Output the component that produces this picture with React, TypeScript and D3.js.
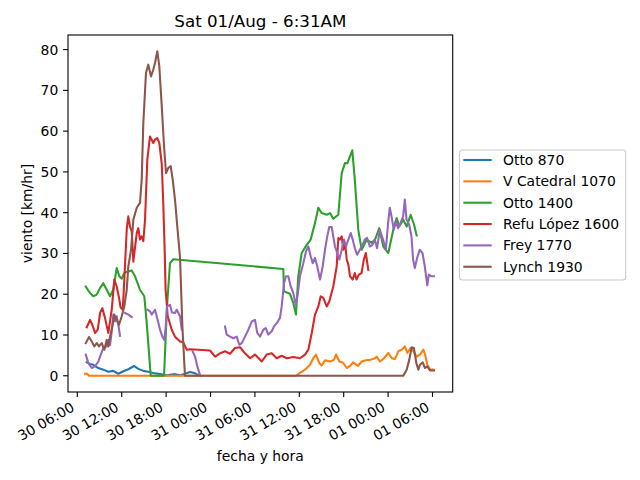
import React, { useEffect } from 'react';
import * as d3 from 'd3';

// hours since 30 Jul 2020 00:00, wind speed in km/hr (null = no data)
type Pt = [number, number | null];

const otto870: Pt[] = [
  [7.27, 3.3], [7.72, 2.9], [8.16, 2.7], [8.84, 1.9], [9.51, 1.5], [10.19, 1.0], [10.86, 1.2],
  [11.54, 0.5], [12.22, 1.1], [12.89, 1.6], [13.66, 2.4], [14.24, 1.7], [14.92, 1.2], [15.59, 1.0],
  [16.27, 0.7], [17.18, 0.4], [18.08, 0.1], [19.2, 0.4], [19.88, 0.1], [21.23, 0.9], [21.91, 0.6],
  [22.58, 0],
];

const vCatedral1070: Pt[] = [
  [7.04, 0.5], [7.31, 0.5], [7.58, 0], [35.55, 0], [36.09, 0.7], [36.77, 1.5], [37.45, 2.7],
  [37.89, 4.3], [38.26, 5.2], [38.7, 3.1], [39.03, 2.5], [39.47, 3.8], [40.15, 3.5], [40.69, 3.9],
  [40.96, 5.2], [41.41, 3.5], [41.91, 3.2], [42.41, 1.9], [42.85, 2.4], [43.3, 3.3], [43.93, 2.4],
  [44.43, 3.5], [45.01, 3.8], [45.56, 3.9], [46.23, 4.3], [46.46, 4.7], [46.91, 3.5], [47.45, 4.3],
  [48.03, 5.6], [48.49, 4.3], [48.93, 4.1], [49.38, 6.0], [49.84, 6.4], [50.28, 7.2], [50.59, 5.6],
  [51.05, 6.8], [51.41, 6.0], [51.86, 4.7], [52.31, 5.2], [52.76, 6.4], [52.99, 5.2], [53.3, 2.7],
  [53.66, 1.6], [54.2, 1.5],
];

const otto1400: Pt[] = [
  [7.14, 21.9], [7.45, 21.0], [7.72, 20.3], [8.16, 19.5], [8.62, 19.9], [9.07, 21.5], [9.51, 22.7],
  [9.97, 21.1], [10.42, 19.5], [10.86, 21.1], [11.32, 26.4], [11.68, 24.4], [12.0, 23.8],
  [12.35, 25.2], [12.89, 25.6], [13.35, 25.8], [13.8, 24.4], [14.47, 21.1], [15.05, 19.5],
  [15.38, 12.9], [15.92, 0], [17.72, 0], [18.12, 17], [18.52, 27.6], [18.97, 28.6], [33.84, 26.2],
  [33.93, 20.7], [34.74, 20.1], [35.19, 17.8], [35.55, 15.0], [35.86, 24.4], [36.32, 30.1],
  [37.0, 32.1], [37.54, 33.4], [38.12, 37.5], [38.57, 41.2], [39.03, 39.9], [39.7, 39.5],
  [40.15, 39.9], [40.59, 38.5], [41.27, 39.5], [41.73, 49.7], [42.18, 52.2], [42.49, 52.1],
  [42.85, 53.8], [43.16, 55.3], [43.5, 48.1], [43.97, 35.8], [44.43, 30.9], [45.11, 33.4],
  [45.78, 32.6], [46.23, 33.4], [46.81, 36.2], [47.35, 31.7], [48.03, 30.1], [48.7, 35.8],
  [49.16, 38.7], [49.51, 36.6], [50.05, 38.3], [50.51, 36.6], [51.05, 39.5], [51.5, 37.1],
  [51.86, 34.4],
];

const refuLopez1600: Pt[] = [
  [7.27, 11.9], [7.72, 13.7], [8.03, 12.5], [8.39, 10.5], [8.76, 11.3], [9.07, 15.4], [9.38, 16.6],
  [9.74, 14.2], [10.19, 10.5], [10.65, 16.2], [11.0, 23.6], [11.32, 21.9], [11.64, 19.1],
  [11.84, 16.8], [12.14, 16.2], [12.35, 23.6], [12.68, 36], [12.89, 39.1], [13.12, 36.6],
  [13.35, 35.5], [13.57, 28.0], [14.03, 35.0], [14.24, 36.2], [14.47, 33.4], [14.7, 34.2],
  [14.92, 33.0], [15.15, 38.3], [15.46, 53], [15.82, 58.7], [16.05, 57.9], [16.27, 57.1],
  [16.5, 57.9], [16.81, 58.3], [17.08, 57.1], [17.41, 52.0], [17.62, 42], [17.8, 31], [17.93, 21.1],
  [18.22, 14.6], [18.76, 11.3], [19.2, 9.6], [19.88, 8.4], [20.32, 8.2], [20.78, 6.4], [21.23, 6.5],
  [23.93, 6.2], [24.61, 4.7], [25.28, 5.5], [25.96, 6.0], [26.64, 5.4], [27.31, 6.8], [27.99, 7.0],
  [28.66, 5.5], [29.34, 4.3], [30.01, 5.2], [30.92, 3.5], [31.59, 5.2], [32.27, 5.5], [32.95, 4.3],
  [33.62, 4.9], [34.3, 4.3], [35.19, 4.6], [36.09, 4.3], [36.77, 5.2], [37.22, 6.4], [37.68, 10.5],
  [38.12, 15.0], [38.57, 17.0], [38.89, 19.5], [39.24, 19.1], [39.7, 17.0], [40.05, 18.2],
  [40.59, 21.9], [41.05, 26.8], [41.27, 33.8], [41.5, 33.4], [41.73, 34.2], [41.95, 30.9],
  [42.18, 32.6], [42.41, 28.5], [42.64, 27.2], [42.85, 24.4], [43.22, 23.6], [43.5, 25.2],
  [43.73, 23.6], [44.04, 24.8], [44.41, 25.2], [44.72, 28.5], [44.99, 30.1], [45.32, 26.0],
];

const frey1770: Pt[] = [
  [7.14, 5.2], [7.49, 3.1], [7.95, 1.9], [8.39, 2.3], [8.84, 3.5], [9.07, 4.7], [9.51, 6.8],
  [9.97, 7.2], [10.19, 8.8], [10.42, 7.5], [10.65, 10.9], [10.86, 15.0], [11.09, 13.3],
  [11.32, 14.6], [11.54, 12.5], [11.77, 9.8], [12.1, null],
  [12.45, 15.4], [12.89, 15.0], [13.35, 14.4], [14.4, null],
  [15.46, 16.2], [15.82, 15.8], [16.05, 15.0], [16.5, 16.2], [16.86, 13.7], [17.18, 11.3],
  [17.49, 9.6], [17.76, 8.8], [17.95, 12.1], [18.12, 17.0], [18.52, 17.4], [18.79, 15.5],
  [19.2, 15.4], [19.43, 16.2], [19.88, 14.6], [20.11, 11.3], [20.8, null],
  [21.59, 6.0], [21.91, 4.7], [22.22, 2.3], [22.58, 0.2], [24.0, null],
  [25.96, 12.1], [26.19, 10.1], [26.64, 9.6], [27.08, 9.2], [27.54, 9.6], [27.89, 7.6],
  [28.22, 8.0], [28.66, 9.6], [29.11, 11.3], [29.57, 13.3], [30.01, 13.7], [30.32, 10.5],
  [30.69, 9.6], [31.14, 11.3], [31.46, 11.7], [31.81, 10.1], [32.27, 10.9], [32.58, 12.1],
  [32.95, 12.9], [33.39, 14.2], [33.62, 17.0], [33.93, 22.7], [34.2, 24.4], [34.51, 24.4],
  [34.84, 21.9], [35.19, 20.3], [35.51, 17.4], [35.78, 19.9], [36.09, 24.4], [36.54, 27.6],
  [36.9, 30.5], [37.22, 31.7], [37.54, 29.3], [37.81, 27.6], [38.12, 28.9], [38.43, 26.8],
  [38.8, 23.6], [39.16, 26.8], [39.47, 30.9], [39.78, 34.2], [40.05, 36.5], [40.38, 36.5],
  [40.59, 34.2], [40.82, 31.7], [41.14, 30.1], [41.41, 28.5], [41.73, 30.9], [42.04, 33.4],
  [42.31, 31.7], [42.62, 33.4], [42.95, 35.0], [43.22, 33.4], [43.5, 31.3], [43.81, 29.7],
  [44.18, 30.9], [44.54, 32.1], [44.85, 33.4], [45.16, 33.8], [45.53, 31.7], [45.89, 32.1],
  [46.2, 33.4], [46.51, 31.3], [46.88, 35.8], [47.32, 33.4], [47.69, 30.9], [48.0, 37.5],
  [48.23, 41.2], [48.46, 39.1], [48.77, 35.8], [49.04, 37.9], [49.35, 36.2], [49.68, 37.5],
  [50.03, 39.1], [50.26, 43.2], [50.49, 38.3], [50.84, 37.1], [51.16, 34.2], [51.38, 28.5],
  [51.61, 26.4], [51.92, 28.9], [52.28, 30.9], [52.65, 30.1], [52.96, 26.8], [53.19, 23.6],
  [53.3, 22.2], [53.5, 24.8], [53.86, 24.4], [54.2, 24.4],
];

const lynch1930: Pt[] = [
  [7.14, 8.0], [7.58, 9.5], [7.95, 8.4], [8.3, 7.2], [8.62, 8.0], [8.93, 7.2], [9.3, 8.0],
  [9.65, 6.4], [9.97, 8.8], [10.19, 7.2], [10.42, 9.6], [10.73, 12.1], [11.0, 15.0], [11.32, 13.7],
  [11.64, 12.5], [12.0, 14.6], [12.35, 17.0], [12.68, 21.1], [12.89, 26.8], [13.26, 30.9],
  [13.57, 38.3], [14.03, 41.2], [14.47, 42.4], [14.7, 48.1], [14.92, 62.0], [15.28, 74.3],
  [15.59, 76.3], [15.96, 73.4], [16.27, 75.1], [16.5, 76.7], [16.81, 79.6], [17.08, 75.9],
  [17.41, 66.1], [17.72, 56.3], [17.99, 49.7], [18.3, 51.0], [18.62, 51.4], [18.89, 48.1],
  [19.2, 43.2], [19.51, 36.6], [19.88, 29.0], [20.2, 12], [20.55, 0], [50.05, 0], [50.51, 1.5],
  [50.86, 3.9], [51.18, 7.0], [51.49, 6.8], [51.82, 3.1], [52.09, 1.5], [52.31, 2.7], [52.68, 3.3],
  [52.99, 1.9], [53.3, 2.3], [53.66, 1.3], [54.2, 1.3],
];

const seriesNames = ['Otto 870', 'V Catedral 1070', 'Otto 1400', 'Refu López 1600', 'Frey 1770', 'Lynch 1930'];
const seriesData = [otto870, vCatedral1070, otto1400, refuLopez1600, frey1770, lynch1930];
const colors = ['#1f77b4', '#ff7f0e', '#2ca02c', '#d62728', '#9467bd', '#8c564b'];
const yTicks = [0, 10, 20, 30, 40, 50, 60, 70, 80];
const xTickHours = [6, 12, 18, 24, 30, 36, 42, 48, 54];
const xDomainHours = [4.74, 56.73];
const yDomain = [-3.98, 83.58];
const title = 'Sat 01/Aug - 6:31AM';

const base = new Date(2020, 6, 30, 0, 0, 0);
const toDate = (h: number) => new Date(base.getTime() + h * 3600 * 1000);

const W = 640, H = 480;
const L = 68, R = 452.7, T = 35, B = 392;
const FONT = 'DejaVu Sans, sans-serif';

export default function App() {
  useEffect(() => {
    document.body.style.margin = '0';
  }, []);

  const x = d3.scaleTime().domain(xDomainHours.map(toDate)).range([L, R]);
  const y = d3.scaleLinear().domain(yDomain).range([B, T]);
  const fmt = d3.timeFormat('%d %H:%M');

  const line = d3.line<Pt>()
    .defined(d => d[1] !== null)
    .x(d => x(toDate(d[0])))
    .y(d => y(d[1] as number));

  return (
    <svg width={W} height={H} style={{ display: 'block', background: '#fff' }} fontFamily={FONT}>
      <defs>
        <clipPath id="plot">
          <rect x={L} y={T} width={R - L} height={B - T} />
        </clipPath>
      </defs>
      <g clipPath="url(#plot)">
        {seriesData.map((s, i) => (
          <path key={i} d={line(s) || ''} fill="none" stroke={colors[i]} strokeWidth={2.08}
            strokeLinejoin="round" strokeLinecap="square" />
        ))}
      </g>
      <rect x={L} y={T} width={R - L} height={B - T} fill="none" stroke="#000" strokeWidth={1.1} />
      {yTicks.map(t => (
        <g key={t}>
          <line x1={L} x2={L - 4.9} y1={y(t)} y2={y(t)} stroke="#000" strokeWidth={1.1} />
          <text x={L - 9.7} y={y(t)} textAnchor="end" dominantBaseline="central" fontSize={13.9}>{t}</text>
        </g>
      ))}
      {xTickHours.map(h => {
        const px = x(toDate(h));
        return (
          <g key={h}>
            <line x1={px} x2={px} y1={B} y2={B + 4.9} stroke="#000" strokeWidth={1.1} />
            <text transform={`translate(${px - 2},${B + 18}) rotate(-30)`} textAnchor="end" fontSize={13.9}>
              {fmt(toDate(h))}
            </text>
          </g>
        );
      })}
      <text x={(L + R) / 2} y={26.7} textAnchor="middle" fontSize={16.7}>{title}</text>
      <text x={(L + R) / 2} y={460.5} textAnchor="middle" fontSize={13.9}>fecha y hora</text>
      <text transform={`translate(32,${(T + B) / 2}) rotate(-90)`} textAnchor="middle" fontSize={13.9}>viento [km/hr]</text>
      <g>
        <rect x={459.5} y={150} width={166.2} height={130} rx={3} fill="#fff" fillOpacity={0.8}
          stroke="#cccccc" strokeWidth={1.1} />
        {seriesNames.map((n, i) => {
          const cy = 160 + i * 21.35;
          return (
            <g key={n}>
              <line x1={463.3} x2={491.7} y1={cy} y2={cy} stroke={colors[i]} strokeWidth={2.08} />
              <text x={503} y={cy} dominantBaseline="central" fontSize={13.9}>{n}</text>
            </g>
          );
        })}
      </g>
    </svg>
  );
}
